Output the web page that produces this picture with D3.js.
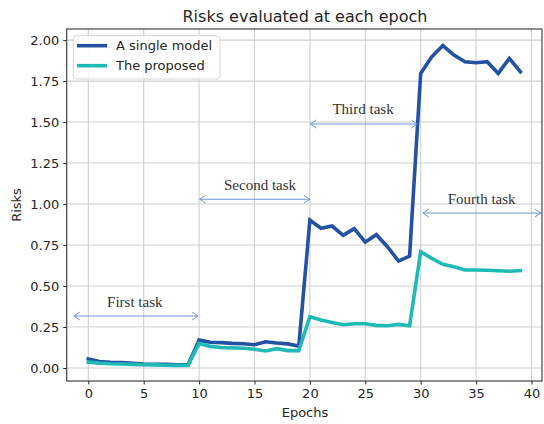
<!DOCTYPE html>
<html>
<head>
<meta charset="utf-8">
<script src="https://cdn.jsdelivr.net/npm/d3@7"></script>
<style>
html,body{margin:0;padding:0;background:#fff;}
svg{display:block;}
</style>
</head>
<body>
<svg id="chart" width="544" height="424"></svg>
<script>
// ---- data ----
const epochs = d3.range(0, 40);
const singleModel = [
  0.055, 0.040, 0.035, 0.033, 0.028, 0.024, 0.022, 0.022, 0.020, 0.020,
  0.170, 0.157, 0.155, 0.150, 0.148, 0.142, 0.160, 0.152, 0.147, 0.134,
  0.902, 0.852, 0.866, 0.809, 0.850, 0.768, 0.813, 0.740, 0.652, 0.683,
  1.797, 1.898, 1.967, 1.909, 1.868, 1.862, 1.868, 1.797, 1.888, 1.807
];
const proposed = [
  0.036, 0.030, 0.026, 0.024, 0.022, 0.020, 0.019, 0.017, 0.016, 0.016,
  0.150, 0.132, 0.125, 0.123, 0.120, 0.114, 0.104, 0.118, 0.106, 0.106,
  0.313, 0.293, 0.278, 0.264, 0.270, 0.270, 0.260, 0.258, 0.266, 0.258,
  0.709, 0.669, 0.632, 0.618, 0.598, 0.598, 0.596, 0.593, 0.590, 0.594
];
const seriesNames = ["A single model", "The proposed"];
const xTicks = [0, 5, 10, 15, 20, 25, 30, 35, 40];
const yTicks = [0, 0.25, 0.5, 0.75, 1.0, 1.25, 1.5, 1.75, 2.0];
const taskLabels = ["First task", "Second task", "Third task", "Fourth task"];
const taskArrowStart = [-1.3, 10.05, 20.05, 30.2];
const taskArrowEnd = [9.9, 20.0, 29.7, 40.85];
const taskArrowY = [0.317, 1.029, 1.488, 0.945];
const taskTextX = [4.2, 15.5, 24.8, 35.5];
const taskTextY = [0.372, 1.085, 1.549, 1.000];

// ---- layout ----
const svg = d3.select("#chart");
const mLeft = 66.7, mRight = 542, mTop = 29, mBottom = 381;
const x = d3.scaleLinear().domain([-1.95, 40.95]).range([mLeft, mRight]);
const y = d3.scaleLinear().domain([-0.0793, 2.0677]).range([mBottom, mTop]);
const colors = ["#2352a5", "#1fbab5"];
const textColor = "#262626";

// grid
const grid = svg.append("g");
grid.selectAll("line.vx").data(xTicks).enter().append("line")
  .attr("x1", d => x(d)).attr("x2", d => x(d)).attr("y1", mTop).attr("y2", mBottom)
  .attr("stroke", "#cfcfcf").attr("stroke-width", 1.1);
grid.selectAll("line.hy").data(yTicks).enter().append("line")
  .attr("y1", d => y(d)).attr("y2", d => y(d)).attr("x1", mLeft).attr("x2", mRight)
  .attr("stroke", "#cfcfcf").attr("stroke-width", 1.1);

// axes
const xAxis = d3.axisBottom(x).tickValues(xTicks).tickFormat(d3.format("d")).tickSize(3.5).tickPadding(4);
const yAxis = d3.axisLeft(y).tickValues(yTicks).tickFormat(d3.format(".2f")).tickSize(3.5).tickPadding(4);
const gx = svg.append("g").attr("transform", `translate(0,${mBottom})`).call(xAxis);
const gy = svg.append("g").attr("transform", `translate(${mLeft},0)`).call(yAxis);
[gx, gy].forEach(g => {
  g.select(".domain").remove();
  g.selectAll(".tick line").attr("stroke", textColor).attr("stroke-width", 1);
  g.selectAll(".tick text").attr("fill", textColor)
    .style("font-family", "'DejaVu Sans', sans-serif").style("font-size", "13px");
});

// lines
const line = d3.line().x((d, i) => x(epochs[i])).y(d => y(d));
const plot = svg.append("g");
[singleModel, proposed].forEach((s, k) => {
  plot.append("path").datum(s).attr("d", line)
    .attr("fill", "none").attr("stroke", colors[k]).attr("stroke-width", 3.6)
    .attr("stroke-linejoin", "miter").attr("stroke-linecap", "square");
});

// spines
svg.append("rect").attr("x", mLeft).attr("y", mTop).attr("width", mRight - mLeft).attr("height", mBottom - mTop)
  .attr("fill", "none").attr("stroke", "#333").attr("stroke-width", 1.1);

// task annotations
const arrowColor = "#5d8ad6";
const ann = svg.append("g");
taskLabels.forEach((t, i) => {
  const x1 = x(taskArrowStart[i]), x2 = x(taskArrowEnd[i]), yy = y(taskArrowY[i]);
  ann.append("line").attr("x1", x1).attr("x2", x2).attr("y1", yy).attr("y2", yy)
    .attr("stroke", arrowColor).attr("stroke-width", 0.9);
  ann.append("path").attr("d", `M${x1 + 6},${yy - 4}L${x1},${yy}L${x1 + 6},${yy + 4}`)
    .attr("fill", "none").attr("stroke", arrowColor).attr("stroke-width", 0.9);
  ann.append("path").attr("d", `M${x2 - 6},${yy - 4}L${x2},${yy}L${x2 - 6},${yy + 4}`)
    .attr("fill", "none").attr("stroke", arrowColor).attr("stroke-width", 0.9);
  ann.append("text").attr("x", x(taskTextX[i])).attr("y", y(taskTextY[i]))
    .attr("text-anchor", "middle").attr("fill", "#333")
    .style("font-family", "'Liberation Serif', serif").style("font-size", "15px")
    .text(t);
});

// legend
const lg = svg.append("g");
lg.append("rect").attr("x", 73.3).attr("y", 35.7).attr("width", 146.7).attr("height", 43.3)
  .attr("rx", 3).attr("fill", "#fff").attr("fill-opacity", 0.85)
  .attr("stroke", "#d6d6d6").attr("stroke-width", 1);
seriesNames.forEach((n, k) => {
  const yy = 45.7 + k * 20;
  lg.append("line").attr("x1", 77).attr("x2", 107).attr("y1", yy).attr("y2", yy)
    .attr("stroke", colors[k]).attr("stroke-width", 3.6);
  lg.append("text").attr("x", 116).attr("y", yy + 4.7).attr("fill", textColor)
    .style("font-family", "'DejaVu Sans', sans-serif").style("font-size", "13px").text(n);
});

// title and labels
svg.append("text").attr("x", 305).attr("y", 21.7).attr("text-anchor", "middle").attr("fill", textColor)
  .style("font-family", "'DejaVu Sans', sans-serif").style("font-size", "16px")
  .text("Risks evaluated at each epoch");
svg.append("text").attr("x", 305).attr("y", 417).attr("text-anchor", "middle").attr("fill", textColor)
  .style("font-family", "'DejaVu Sans', sans-serif").style("font-size", "13px").text("Epochs");
svg.append("text").attr("transform", "translate(20.5,205) rotate(-90)").attr("text-anchor", "middle").attr("fill", textColor)
  .style("font-family", "'DejaVu Sans', sans-serif").style("font-size", "13px").text("Risks");
</script>
</body>
</html>
